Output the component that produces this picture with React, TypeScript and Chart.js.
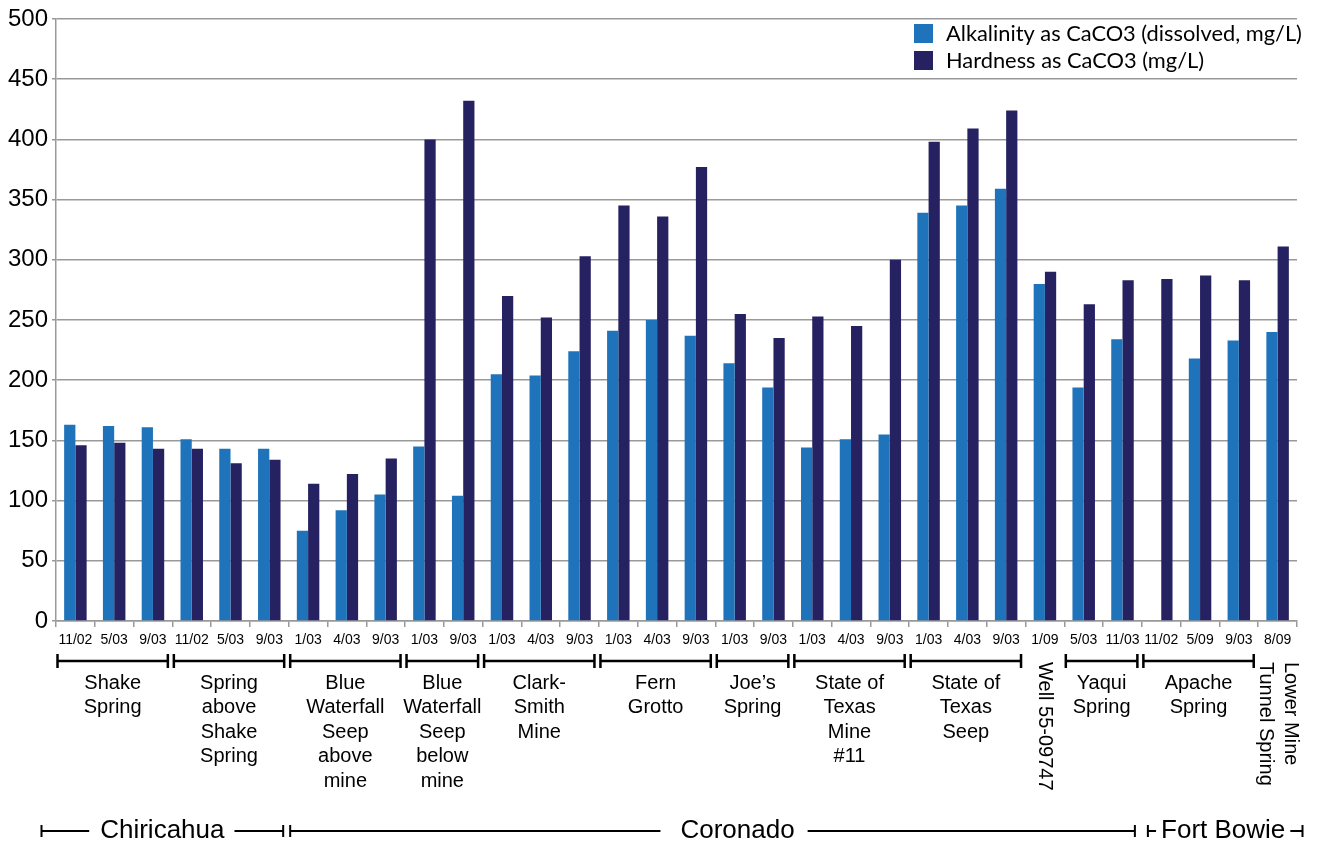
import React, { useEffect, useRef } from "react";
import { Chart, registerables } from "chart.js";

Chart.register(...registerables);

const dates = [
  "11/02", "5/03", "9/03",
  "11/02", "5/03", "9/03",
  "1/03", "4/03", "9/03",
  "1/03", "9/03",
  "1/03", "4/03", "9/03",
  "1/03", "4/03", "9/03",
  "1/03", "9/03",
  "1/03", "4/03", "9/03",
  "1/03", "4/03", "9/03",
  "1/09",
  "5/03", "11/03",
  "11/02", "5/09", "9/03",
  "8/09",
];

const alkalinity = [
  163, 162, 161,
  151, 143, 143,
  75, 92, 105,
  145, 104,
  205, 204, 224,
  241, 250, 237,
  214, 194,
  144, 151, 155,
  339, 345, 359,
  280,
  194, 234,
  null, 218, 233,
  240,
];

const hardness = [
  146, 148, 143,
  143, 131, 134,
  114, 122, 135,
  400, 432,
  270, 252, 303,
  345, 336, 377,
  255, 235,
  253, 245, 300,
  398, 409, 424,
  290,
  263, 283,
  284, 287, 283,
  311,
];

const seriesNames = ["Alkalinity as CaCO3 (dissolved, mg/L)", "Hardness as CaCO3 (mg/L)"];

const siteLabels = [
  ["Shake", "Spring"],
  ["Spring", "above", "Shake", "Spring"],
  ["Blue", "Waterfall", "Seep", "above", "mine"],
  ["Blue", "Waterfall", "Seep", "below", "mine"],
  ["Clark-", "Smith", "Mine"],
  ["Fern", "Grotto"],
  ["Joe\u2019s", "Spring"],
  ["State of", "Texas", "Mine", "#11"],
  ["State of", "Texas", "Seep"],
  ["Well 55-09747"],
  ["Yaqui", "Spring"],
  ["Apache", "Spring"],
  ["Lower Mine", "Tunnel Spring"],
];
const siteSizes = [3, 3, 3, 2, 3, 3, 2, 3, 3, 1, 2, 3, 1];

const regionNames = ["Chiricahua", "Coronado", "Fort Bowie"];
const regionSizes = [6, 22, 4];

const ALK_COLOR = "#1F73BA";
const HARD_COLOR = "#262262";
const FONT = "'Liberation Sans', Arial, sans-serif";

const annotationPlugin = {
  id: "annotations",
  afterDraw(chart: any) {
    const ctx = chart.ctx;
    const x = chart.scales.x;
    const half = (x.getPixelForValue(1) - x.getPixelForValue(0)) / 2;
    const b = (i: number) => x.getPixelForValue(i) - half;

    ctx.save();
    ctx.fillStyle = "#000";
    ctx.strokeStyle = "#000";

    // site brackets and labels
    let idx = 0;
    const brY = 661;
    siteSizes.forEach((n, g) => {
      const l0 = b(idx);
      const r0 = b(idx + n);
      const lines = siteLabels[g];
      if (n > 1) {
        const L = l0 + 1.5;
        const R = r0 - 4.5;
        ctx.lineWidth = 2.5;
        ctx.beginPath();
        ctx.moveTo(L, brY);
        ctx.lineTo(R, brY);
        ctx.moveTo(L, brY - 7);
        ctx.lineTo(L, brY + 7);
        ctx.moveTo(R, brY - 7);
        ctx.lineTo(R, brY + 7);
        ctx.stroke();
        ctx.font = `20px ${FONT}`;
        ctx.textAlign = "center";
        ctx.textBaseline = "middle";
        const cx = (L + R) / 2;
        lines.forEach((t, k) => ctx.fillText(t, cx, 683 + k * 24.6));
      } else {
        const cx = (l0 + r0) / 2;
        ctx.font = `20px ${FONT}`;
        ctx.textAlign = "left";
        ctx.textBaseline = "middle";
        lines.forEach((t, k) => {
          ctx.save();
          const lx = cx + ((lines.length - 1) / 2 - k) * 25;
          ctx.translate(lx, 662);
          ctx.rotate(Math.PI / 2);
          ctx.fillText(t, 0, 0);
          ctx.restore();
        });
      }
      idx += n;
    });

    // regions
    const rY = 831;
    const regionOffsets = [
      { l: -14.5, r: -5.5, gapL: 11, gapR: 10, shift: 0 },
      { l: 1.5, r: -7, gapL: 20, gapR: 13, shift: 25 },
      { l: 6, r: 5.5, gapL: 5, gapR: 5, shift: -2 },
    ];
    idx = 0;
    ctx.font = `26px ${FONT}`;
    ctx.textAlign = "center";
    ctx.textBaseline = "middle";
    regionSizes.forEach((n, g) => {
      const o = regionOffsets[g];
      const L = b(idx) + o.l;
      const R = b(idx + n) + o.r;
      const cx = (L + R) / 2 + o.shift;
      const w = ctx.measureText(regionNames[g]).width;
      ctx.fillText(regionNames[g], cx, rY);
      ctx.lineWidth = 2;
      ctx.beginPath();
      ctx.moveTo(L, rY);
      ctx.lineTo(cx - w / 2 - o.gapL, rY);
      ctx.moveTo(cx + w / 2 + o.gapR, rY);
      ctx.lineTo(R, rY);
      ctx.moveTo(L, rY - 6);
      ctx.lineTo(L, rY + 6);
      ctx.moveTo(R, rY - 6);
      ctx.lineTo(R, rY + 6);
      ctx.stroke();
      idx += n;
    });

    // legend
    const lgFont = "Lato, 'Open Sans', sans-serif";
    ctx.font = `20px ${lgFont}`;
    const mw = ctx.measureText(seriesNames[0]).width;
    const size = Math.max(14, Math.min(24, (20 * 356) / mw));
    ctx.font = `${size}px ${lgFont}`;
    ctx.textAlign = "left";
    ctx.textBaseline = "middle";
    const colors = [ALK_COLOR, HARD_COLOR];
    seriesNames.forEach((s, k) => {
      const y = 24 + k * 27;
      ctx.fillStyle = colors[k];
      ctx.fillRect(914, y, 19, 19);
      ctx.fillStyle = "#000";
      ctx.fillText(s, 946, y + 10);
    });
    ctx.restore();
  },
};

export default function App() {
  const ref = useRef<HTMLCanvasElement | null>(null);
  useEffect(() => {
    if (!ref.current) return;
    const chart = new Chart(ref.current, {
      type: "bar",
      data: {
        labels: dates,
        datasets: [
          { label: seriesNames[0], data: alkalinity as any, backgroundColor: ALK_COLOR, borderWidth: 0 },
          { label: seriesNames[1], data: hardness, backgroundColor: HARD_COLOR, borderWidth: 0 },
        ],
      },
      options: {
        responsive: false,
        animation: false,
        layout: { padding: { left: 0, right: 31, top: 19, bottom: 0 } },
        datasets: { bar: { categoryPercentage: 0.58, barPercentage: 1.0 } },
        plugins: { legend: { display: false }, tooltip: { enabled: false } },
        scales: {
          x: {
            offset: true,
            grid: { drawOnChartArea: false, offset: true, tickLength: 6, color: "#999", lineWidth: 1.5 },
            border: { color: "#999", width: 1.5 },
            ticks: { font: { size: 14, family: FONT }, color: "#000", maxRotation: 0, autoSkip: false, padding: 5 },
            afterFit: (s: any) => { s.height = 220; },
          },
          y: {
            min: 0,
            max: 500,
            ticks: { stepSize: 50, font: { size: 24, family: FONT }, color: "#000", padding: 4 },
            grid: { color: "#999", lineWidth: 1.5, tickLength: 4 },
            border: { color: "#999", width: 1.5 },
            afterFit: (s: any) => { s.width = 56; },
          },
        },
      },
      plugins: [annotationPlugin],
    });
    return () => chart.destroy();
  }, []);
  return (
    <div style={{ position: "fixed", left: 0, top: 0, width: 1328, height: 841, background: "#fff" }}>
      <canvas ref={ref} width={1328} height={841} style={{ width: 1328, height: 841 }} />
    </div>
  );
}
